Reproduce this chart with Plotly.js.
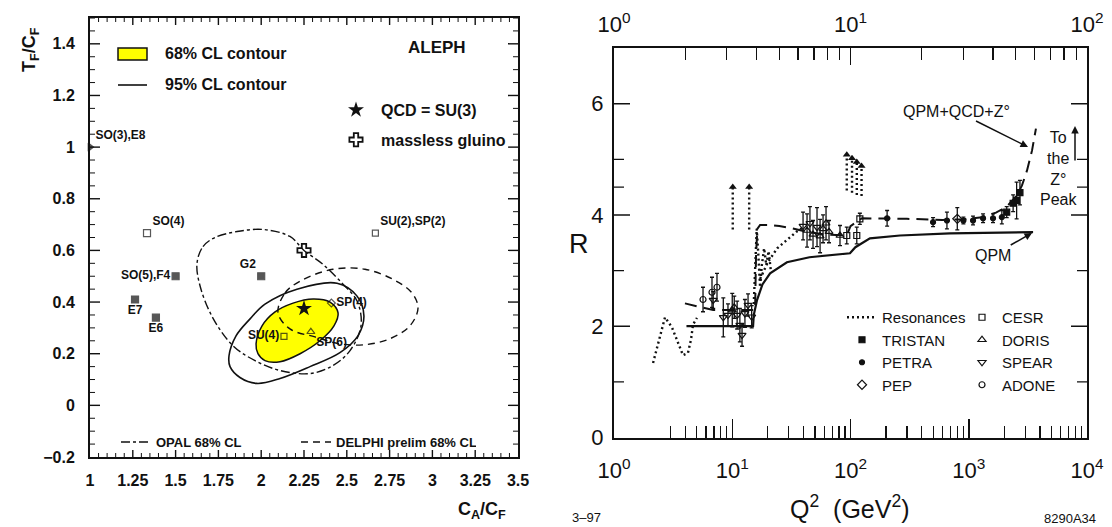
<!DOCTYPE html>
<html><head><meta charset="utf-8">
<script src="https://cdn.plot.ly/plotly-3.0.1.min.js"></script>
<style>html,body{margin:0;padding:0;background:#fff}#chart{width:1112px;height:527px}</style>
</head><body><div id="chart"></div>
<script>
// ================= LEFT PANEL : colour factor plane =================
const groupNames = ["SO(3),E8","SO(4)","SO(5),F4","E7","E6","G2","SU(2),SP(2)","SU(4)","SP(4)","SP(6)"];
const groupCA = [1.0, 1.333, 1.5, 1.263, 1.385, 2.0, 2.667, 2.133, 2.41, 2.29];
const groupTF = [1.0, 0.667, 0.5, 0.41, 0.34, 0.5, 0.667, 0.267, 0.396, 0.285];

const qcdCA = [2.25];   const qcdTF = [0.375];
const gluinoCA = [2.25]; const gluinoTF = [0.60];

// ALEPH 68% CL contour (filled)
const aleph68CA = [1.970,2.005,2.081,2.186,2.303,2.402,2.449,2.425,2.343,2.227,2.110,2.022,1.981];
const aleph68TF = [0.238,0.308,0.362,0.396,0.412,0.400,0.358,0.308,0.250,0.200,0.169,0.173,0.200];
// ALEPH 95% CL contour
const aleph95CA = [1.812,1.853,1.935,2.022,2.209,2.443,2.560,2.600,2.565,2.460,2.285,2.110,1.975,1.876,1.818];
const aleph95TF = [0.192,0.269,0.335,0.392,0.450,0.473,0.423,0.346,0.269,0.204,0.150,0.104,0.085,0.108,0.150];
// OPAL 68% CL
const opalCA = [1.625,1.660,1.730,1.859,2.011,2.168,2.250,2.361,2.478,2.560,2.583,2.519,2.419,2.285,2.110,1.964,1.835,1.718,1.643];
const opalTF = [0.550,0.615,0.650,0.673,0.681,0.654,0.600,0.546,0.469,0.404,0.308,0.212,0.154,0.123,0.135,0.173,0.231,0.338,0.462];
// DELPHI prelim 68% CL
const delphiCA = [2.098,2.139,2.227,2.419,2.606,2.770,2.881,2.916,2.869,2.752,2.606,2.460,2.314,2.168];
const delphiTF = [0.358,0.435,0.481,0.527,0.527,0.488,0.435,0.377,0.308,0.258,0.235,0.238,0.265,0.296];

const leftXTicks = [1,1.25,1.5,1.75,2,2.25,2.5,2.75,3,3.25,3.5];
const leftXTickText = ["1","1.25","1.5","1.75","2","2.25","2.5","2.75","3","3.25","3.5"];
const leftYTicks = [-0.2,0,0.2,0.4,0.6,0.8,1,1.2,1.4];

// ================= RIGHT PANEL : R ratio =================
// Resonances (dotted)
const resLowQ2 = [2.14,2.36,2.55,2.70,3.09,3.47,3.83,4.22,4.48,4.66,5.03];
const resLowR  = [1.34,1.70,1.98,2.16,1.98,1.71,1.48,1.52,1.76,2.03,2.15];
const resCharmQ2 = [15.2,15.6,16.1,16.6,17.2,17.8,18.6,19.4,20.3,21.2];
const resCharmR  = [2.40,3.20,3.75,3.30,2.70,3.10,3.40,3.10,3.35,3.00];
const resContQ2 = [17.2,20,24,29,35,40];
const resContR  = [2.85,3.15,3.40,3.55,3.70,3.78];
const spikeQ2   = [10.1,13.9,93,103,113,124];
const spikeBase = [3.74,3.74,4.44,4.40,4.36,4.34];
const spikeTop  = [4.50,4.50,5.08,5.02,4.95,4.88];

// QPM and QPM+QCD+Z0
const qpmQ2 = [4.1,15.0,15.2,16.2,18,20.9,29,45,99,110,146,262,694,3500];
const qpmR  = [2.0,2.0,2.2,2.47,2.75,2.95,3.15,3.24,3.31,3.42,3.58,3.63,3.67,3.69];
const qcdQ2 = [3.98,6.9,15.6,15.9,16.3,17.2,20,25,32,42,60,93,100,125,300,600,900,1300,1700,2100,2560,2820,3110,3430,3700];
const qcdR  = [2.41,2.29,2.29,3.3,3.75,3.82,3.82,3.80,3.76,3.70,3.65,3.63,3.80,3.94,3.93,3.91,3.92,3.96,4.04,4.15,4.35,4.53,4.80,5.16,5.55];

// Experiments
const tristanQ2 = [2094,2373,2540,2710];
const tristanR  = [4.05,4.21,4.26,4.40];
const tristanE  = [0.10,0.15,0.33,0.22];
const petraQ2 = [204,499,654,901,1087,1321,1604,1905];
const petraR  = [3.94,3.87,3.90,3.90,3.90,3.94,3.94,3.96];
const petraE  = [0.14,0.08,0.15,0.06,0.08,0.08,0.08,0.12];
const pepQ2 = [800];
const pepR  = [3.93];
const pepE  = [0.20];
const cesrQ2 = [93,113,120];
const cesrR  = [3.63,3.63,3.93];
const cesrE  = [0.15,0.15,0.10];
const dorisQ2 = [10.0,10.4,42.9,48.2,55.3,58.6,62.1,65.8,81.5];
const dorisR  = [2.29,2.34,3.72,3.65,3.62,3.75,3.85,3.70,3.63];
const dorisE  = [0.30,0.20,0.30,0.25,0.30,0.25,0.30,0.20,0.18];
const spearQ2 = [6.9,8.4,9.2,11.0,11.6,12.1,12.8,13.6,14.6,39.7,45.4,52.1];
const spearR  = [2.47,2.16,2.20,2.20,2.02,1.84,2.23,2.38,2.17,3.80,3.85,3.78];
const spearE  = [0.15,0.35,0.20,0.25,0.30,0.20,0.25,0.20,0.20,0.25,0.30,0.35];
const adoneQ2 = [5.66,6.74,7.43];
const adoneR  = [2.48,2.61,2.70];
const adoneE  = [0.22,0.27,0.25];

const decadeVals = [1,10,100,1000,10000];
const decadeText = ["10<sup>0</sup>","10<sup>1</sup>","10<sup>2</sup>","10<sup>3</sup>","10<sup>4</sup>"];
const qVals = [1,10,100];
const qText = ["10<sup>0</sup>","10<sup>1</sup>","10<sup>2</sup>"];
const rMajor = [0,2,4,6];
const rMinor = [1,3,4.5,5];

// ---------------- helpers ----------------
const W = 1112, H = 527;
const px = v => v / W, py = v => 1 - v / H;
const close = a => a.concat([a[0]]);
const BLK = '#111';
const LFONT = 'Liberation Sans, Arial, sans-serif';
const steps = (a, b, s) => { const o = []; for (let v = a; v <= b + 1e-9; v += s) o.push(Math.round(v * 1000) / 1000); return o; };

function joinSegments(segs) {
  const x = [], y = [];
  segs.forEach((s, i) => { if (i) { x.push(null); y.push(null); } x.push(...s[0]); y.push(...s[1]); });
  return [x, y];
}
const spikeSegs = spikeQ2.map((q, i) => [[q, q], [spikeBase[i], spikeTop[i]]]);
const [resX, resY] = joinSegments([[resLowQ2, resLowR], [resCharmQ2, resCharmR], [resContQ2, resContR], ...spikeSegs]);

function expTrace(name, x, y, e, symbol, legend, size) {
  return { type: 'scatter', mode: 'markers', name, x, y, xaxis: 'x2', yaxis: 'y2', legend, legendgroup: name,
    marker: { symbol, size: size || 6, color: BLK, line: { color: BLK, width: 1.2 } },
    error_y: { type: 'data', array: e, visible: true, width: 2, thickness: 1.3, color: BLK } };
}

const traces = [
  // ---- left ----
  { type: 'scatter', mode: 'lines', x: close(aleph68CA), y: close(aleph68TF), fill: 'toself', fillcolor: '#ffff00',
    line: { color: BLK, width: 1.5, shape: 'spline', smoothing: 1 }, showlegend: false, hoverinfo: 'skip' },
  { type: 'scatter', mode: 'lines', x: close(aleph95CA), y: close(aleph95TF),
    line: { color: BLK, width: 1.6, shape: 'spline', smoothing: 1 }, showlegend: false },
  { type: 'scatter', mode: 'lines', name: 'OPAL 68% CL', legend: 'legend3', x: close(opalCA), y: close(opalTF),
    line: { color: BLK, width: 1.4, dash: 'dashdot', shape: 'spline', smoothing: 1 } },
  { type: 'scatter', mode: 'lines', name: 'DELPHI prelim 68% CL', legend: 'legend3', x: close(delphiCA), y: close(delphiTF),
    line: { color: BLK, width: 1.4, dash: '7px,5px', shape: 'spline', smoothing: 1 } },
  { type: 'scatter', mode: 'markers+text', x: groupCA, y: groupTF, text: groupNames, showlegend: false, cliponaxis: false,
    textposition: ['top right','top right','middle left','bottom center','bottom center','top left','top right','middle left','middle right','bottom right'],
    textfont: { family: LFONT, size: 12, weight: 'bold', color: BLK },
    marker: { color: BLK, size: [7,7,7,7,7,7,6,6,6,7],
      symbol: ['triangle-right','square-open','square','square','square','square','square-open','square-open','diamond-open','triangle-up-open'],
      line: { color: BLK, width: 1.2 } } },
  { type: 'scatter', mode: 'markers', name: 'QCD = SU(3)', legend: 'legend2', legendgroup: 'q', x: qcdCA, y: qcdTF,
    marker: { symbol: 'star', size: 12, color: BLK } },
  { type: 'scatter', mode: 'markers', name: 'massless gluino', legend: 'legend2', legendgroup: 'g', x: gluinoCA, y: gluinoTF,
    marker: { symbol: 'cross-open', size: 11, color: BLK, line: { color: BLK, width: 1.8 } } },
  // ---- right ----
  { type: 'scatter', mode: 'lines', name: 'Resonances', legend: 'legend4', legendgroup: 'res', x: resX, y: resY, xaxis: 'x2', yaxis: 'y2',
    connectgaps: false, line: { color: BLK, width: 2.4, dash: '2px,3px' } },
  { type: 'scatter', mode: 'markers', x: spikeQ2, y: spikeTop, xaxis: 'x2', yaxis: 'y2', showlegend: false,
    marker: { symbol: 'triangle-up', size: 7, color: BLK } },
  { type: 'scatter', mode: 'lines', x: qpmQ2, y: qpmR, xaxis: 'x2', yaxis: 'y2', showlegend: false,
    line: { color: BLK, width: 2.2 } },
  { type: 'scatter', mode: 'lines', x: qcdQ2, y: qcdR, xaxis: 'x2', yaxis: 'y2', showlegend: false,
    line: { color: BLK, width: 2, dash: '12px,7px' } },
  expTrace('TRISTAN', tristanQ2, tristanR, tristanE, 'square', 'legend4', 6),
  expTrace('PETRA', petraQ2, petraR, petraE, 'circle', 'legend4', 5),
  expTrace('PEP', pepQ2, pepR, pepE, 'diamond-open', 'legend4', 7),
  expTrace('CESR', cesrQ2, cesrR, cesrE, 'square-open', 'legend5', 6),
  expTrace('DORIS', dorisQ2, dorisR, dorisE, 'triangle-up-open', 'legend5', 7),
  expTrace('SPEAR', spearQ2, spearR, spearE, 'triangle-down-open', 'legend5', 7),
  expTrace('ADONE', adoneQ2, adoneR, adoneE, 'circle-open', 'legend5', 6),
  // invisible carrier for the top Q axis
  { type: 'scatter', mode: 'lines', x: qpmQ2.map(Math.sqrt), y: qpmR, xaxis: 'x3', yaxis: 'y2',
    showlegend: false, hoverinfo: 'skip', opacity: 0, line: { width: 0 } }
];

// ---- tick marks drawn as pixel-sized shapes anchored to the axes ----
const tickShapes = [];
function xTicks(xref, yref, vals, len, w) {
  vals.forEach(v => {
    tickShapes.push({ type: 'line', layer: 'above', xref, x0: v, x1: v, yref: yref + ' domain', ysizemode: 'pixel',
      yanchor: 0, y0: 0, y1: len, line: { color: BLK, width: w } });
    tickShapes.push({ type: 'line', layer: 'above', xref, x0: v, x1: v, yref: yref + ' domain', ysizemode: 'pixel',
      yanchor: 1, y0: 0, y1: -len, line: { color: BLK, width: w } });
  });
}
function yTicks(xref, yref, vals, len, w, sides) {
  vals.forEach(v => {
    sides.forEach(s => {
      tickShapes.push({ type: 'line', layer: 'above', yref, y0: v, y1: v, xref: xref + ' domain', xsizemode: 'pixel',
        xanchor: s, x0: 0, x1: s === 0 ? len : -len, line: { color: BLK, width: w } });
    });
  });
}
const leftXMinor = steps(1, 3.5, 0.05).filter(v => leftXTicks.indexOf(v) < 0);
const leftYMinor = steps(-0.2, 1.5, 0.05).filter(v => leftYTicks.indexOf(v) < 0);
xTicks('x', 'y', leftXMinor, 4, 1);
xTicks('x', 'y', leftXTicks.slice(1, -1), 7, 1.4);
yTicks('x', 'y', leftYMinor, 5, 1, [0, 1]);
yTicks('x', 'y', leftYTicks.slice(1), 10, 1.4, [0, 1]);
yTicks('x2', 'y2', rMinor, 10, 1.3, [0, 1]);
yTicks('x2', 'y2', rMajor.slice(1), 16, 1.5, [0, 1]);

const leftFont = { family: LFONT, size: 16, weight: 'bold', color: BLK };
const rightTick = { family: LFONT, size: 22, color: BLK };
const axLine = { showline: true, linecolor: BLK, linewidth: 2, showgrid: false, zeroline: false, mirror: true };

function ann(x, y, text, font, extra) {
  return Object.assign({ xref: 'paper', yref: 'paper', x: px(x), y: py(y), xanchor: 'center', yanchor: 'middle',
    showarrow: false, text, font }, extra || {});
}

const layout = {
  width: W, height: H, margin: { l: 0, r: 0, t: 0, b: 0 },
  paper_bgcolor: '#fff', plot_bgcolor: 'rgba(0,0,0,0)',
  font: { family: LFONT, color: BLK },
  showlegend: true, hovermode: false,
  xaxis: Object.assign({}, axLine, { domain: [px(90), px(518)], anchor: 'y', range: [1, 3.5],
    tickmode: 'array', tickvals: leftXTicks, ticktext: leftXTickText, ticks: '',
    ticklabelstandoff: 8, tickfont: leftFont }),
  yaxis: Object.assign({}, axLine, { domain: [py(457), py(18)], anchor: 'x', range: [-0.2, 1.5],
    tickmode: 'array', tickvals: leftYTicks, ticks: '', ticklabelstandoff: 10, tickfont: leftFont }),
  xaxis2: Object.assign({}, axLine, { mirror: false, domain: [px(614), px(1087)], type: 'log', range: [0, 4], anchor: 'y2',
    tickmode: 'array', tickvals: decadeVals, ticktext: decadeText, ticks: 'inside', ticklen: 19, tickwidth: 1.5,
    tickcolor: BLK, ticklabelstandoff: 12, tickfont: rightTick,
    minor: { tickmode: 'array', tickvals: [3,4,5,6,7,8,9,20,30,40,50,60,70,80,90,200,300,400,500,600,700,800,900,2000,3000,4000,5000,6000,7000,8000,9000],
      ticks: 'inside', ticklen: 12, tickwidth: 1.3, tickcolor: BLK } }),
  xaxis3: Object.assign({}, axLine, { mirror: false, domain: [px(614), px(1087)], type: 'log', range: [0, 2], anchor: 'y2',
    overlaying: 'x2', side: 'top', tickmode: 'array', tickvals: qVals, ticktext: qText, ticks: 'inside', ticklen: 17,
    tickwidth: 1.5, tickcolor: BLK, ticklabelstandoff: 5, tickfont: rightTick,
    minor: { dtick: 'D1', ticks: 'inside', ticklen: 12, tickwidth: 1.3, tickcolor: BLK } }),
  yaxis2: Object.assign({}, axLine, { domain: [py(437.5), py(48)], anchor: 'x2', range: [0, 7],
    tickmode: 'array', tickvals: rMajor, ticks: '', ticklabelstandoff: 4, tickfont: rightTick }),
  legend2: { x: px(331), y: py(93), xanchor: 'left', yanchor: 'top', bgcolor: 'rgba(0,0,0,0)', itemwidth: 40,
    tracegroupgap: 6, font: { family: LFONT, size: 16, weight: 'bold', color: BLK } },
  legend3: { orientation: 'h', x: px(116), y: py(427), xanchor: 'left', yanchor: 'top', bgcolor: 'rgba(0,0,0,0)',
    entrywidth: 135, font: { family: LFONT, size: 13, weight: 'bold', color: BLK } },
  legend4: { x: px(842), y: py(301), xanchor: 'left', yanchor: 'top', bgcolor: 'rgba(0,0,0,0)', tracegroupgap: 0,
    font: { family: LFONT, size: 15, color: BLK } },
  legend5: { x: px(962), y: py(301), xanchor: 'left', yanchor: 'top', bgcolor: 'rgba(0,0,0,0)', tracegroupgap: 0,
    font: { family: LFONT, size: 15, color: BLK } },
  shapes: [
    { type: 'rect', xref: 'paper', yref: 'paper', x0: px(118), x1: px(147), y0: py(60), y1: py(48),
      fillcolor: '#ffff00', line: { color: BLK, width: 1.5 } },
    { type: 'line', xref: 'paper', yref: 'paper', x0: px(118), x1: px(147), y0: py(85), y1: py(85),
      line: { color: BLK, width: 1.6 } }
  ].concat(tickShapes),
  annotations: [
    ann(163, 54, '68% CL contour', leftFont, { xanchor: 'left' }),
    ann(163, 85, '95% CL contour', leftFont, { xanchor: 'left' }),
    ann(437, 48, 'ALEPH', { family: LFONT, size: 17, weight: 'bold', color: BLK }),
    ann(31, 50, 'T<sub>F</sub>/C<sub>F</sub>', { family: LFONT, size: 18, weight: 'bold', color: BLK }, { textangle: -90 }),
    ann(482, 510, 'C<sub>A</sub>/C<sub>F</sub>', { family: LFONT, size: 18, weight: 'bold', color: BLK }),
    ann(579, 244, 'R', { family: LFONT, size: 27, color: BLK }),
    ann(850, 507, 'Q<sup>2</sup>  (GeV<sup>2</sup>)', { family: LFONT, size: 25, color: BLK }),
    ann(586, 517, '3–97', { family: LFONT, size: 13, color: BLK }),
    ann(1070, 518, '8290A34', { family: LFONT, size: 13, color: BLK }),
    ann(1028, 147, 'QPM+QCD+Z°', { family: LFONT, size: 16, color: BLK },
      { showarrow: true, ax: -72, ay: -36, arrowhead: 2, arrowsize: 1, arrowwidth: 1.5, arrowcolor: BLK }),
    ann(1032, 233, 'QPM', { family: LFONT, size: 16, color: BLK },
      { showarrow: true, ax: -39, ay: 22, arrowhead: 2, arrowsize: 1, arrowwidth: 1.5, arrowcolor: BLK }),
    ann(1058, 168, 'To<br>the<br>Z°<br>Peak', { family: LFONT, size: 16, color: BLK }, { align: 'center' }),
    ann(1075, 126, '', { family: LFONT, size: 10, color: BLK },
      { showarrow: true, ax: 0, ay: 36, arrowhead: 2, arrowsize: 1, arrowwidth: 1.5, arrowcolor: BLK })
  ]
};

Plotly.newPlot('chart', traces, layout, { staticPlot: true, displayModeBar: false });
</script>
</body></html>
